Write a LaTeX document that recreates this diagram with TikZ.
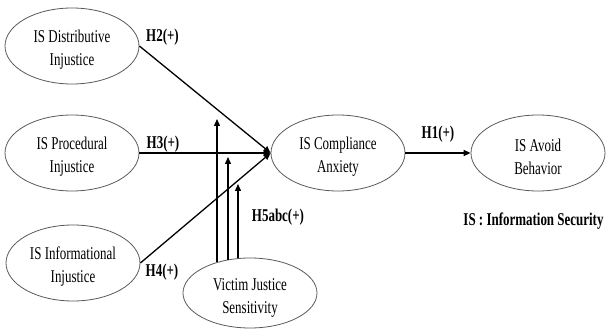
\documentclass[tikz,border=0pt]{standalone}
\usepackage{fontspec}
\setmainfont[FakeStretch=0.72]{Liberation Serif}
\usetikzlibrary{arrows.meta,shapes.geometric}
\begin{document}
\begin{tikzpicture}[x=1pt,y=-1pt,
  ell/.style={ellipse,draw=black!65,line width=0.8pt,inner sep=0pt,
    minimum width=134pt,minimum height=76pt},
  etxt/.style={align=center,inner sep=0pt,font=\fontsize{18}{23}\selectfont},
  lbl/.style={font=\fontsize{18}{22}\selectfont\bfseries,inner sep=0pt},
  arr/.style={line width=1.3pt,-{Triangle[length=7pt,width=6pt]}}]
\useasboundingbox (0,0) rectangle (606,331);
\node[ell] (d) at (72,46) {};
\node[ell] (p) at (72,153) {};
\node[ell] (inf) at (73,263) {};
\node[ell] (ca) at (338,153) {};
\node[ell] (ab) at (538,153) {};
\node[ell,minimum height=70pt] (v) at (250,293) {};
\node[etxt] (dt) at ([yshift=-4pt]d.center) {IS Distributive\\Injustice};
\node[etxt] (pt) at ([yshift=-4pt]p.center) {IS Procedural\\Injustice};
\node[etxt] (it) at ([yshift=-4pt]inf.center) {IS Informational\\Injustice};
\node[etxt] (cat) at ([yshift=-4pt]ca.center) {IS Compliance\\Anxiety};
\node[etxt] (abt) at ([yshift=-4pt]ab.center) {IS Avoid\\Behavior};
\node[etxt] (vt) at ([yshift=-5pt]v.center) {Victim Justice\\Sensitivity};
\draw[arr] (d.east) -- (ca.west);
\draw[arr] (p.east) -- (ca.west);
\draw[arr] (inf.east) -- (ca.west);
\draw[arr] (ca.east) -- (ab.west);
\coordinate (s1) at (217,262.5);
\coordinate (s2) at (228,260);
\coordinate (s3) at (238,258.5);
\coordinate (t1) at (217,119);
\coordinate (t2) at (228,157);
\coordinate (t3) at (238,184);
\draw[arr] (s1) -- (t1);
\draw[arr] (s2) -- (t2);
\draw[arr] (s3) -- (t3);
\node[lbl] (h2) at (162.5,37) {H2(+)};
\node[lbl] (h3) at (163,144) {H3(+)};
\node[lbl] (h4) at (162,272) {H4(+)};
\node[lbl] (h1) at (438,134) {H1(+)};
\node[lbl] (h5) at (278,217) {H5abc(+)};
\node[lbl] (is) at (533.5,221) {IS : Information Security};
\end{tikzpicture}
\end{document}
